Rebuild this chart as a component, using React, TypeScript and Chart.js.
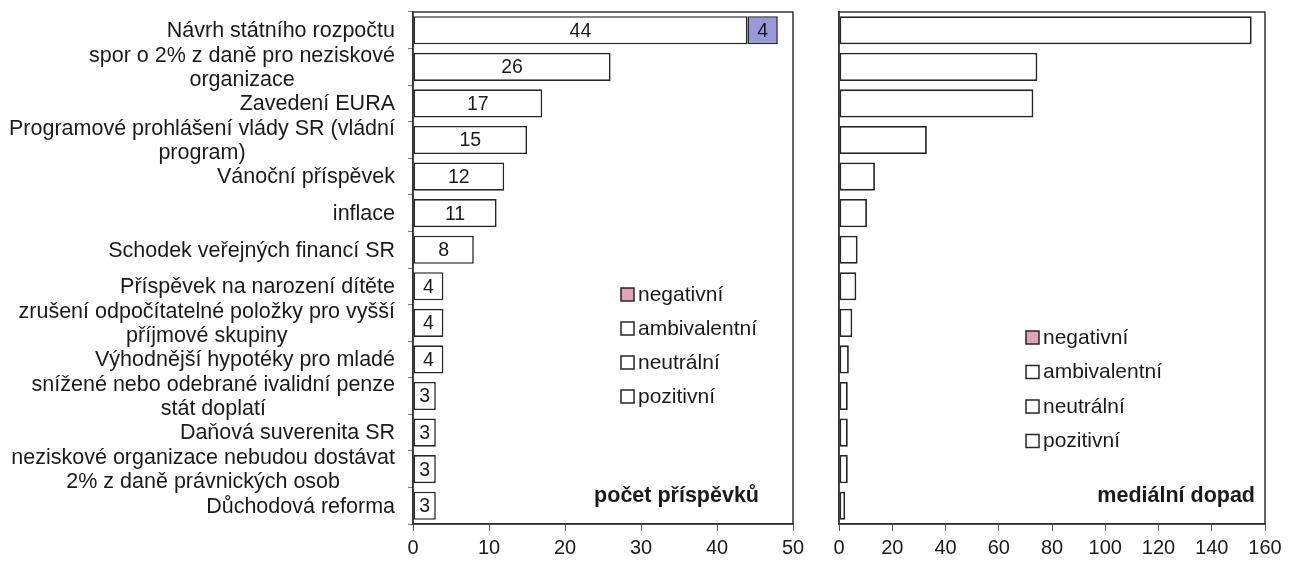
import React, { useEffect, useRef } from "react";
import { Chart, registerables } from "chart.js";

Chart.register(...registerables);

// ---------- data ----------
const topics: (string | string[])[] = [
  "Návrh státního rozpočtu",
  ["spor o 2% z daně pro neziskové", "organizace"],
  "Zavedení EURA",
  ["Programové prohlášení vlády SR (vládní", "program)"],
  "Vánoční příspěvek",
  "inflace",
  "Schodek veřejných financí SR",
  "Příspěvek na narození dítěte",
  ["zrušení odpočítatelné položky pro vyšší", "příjmové skupiny"],
  "Výhodnější hypotéky pro mladé",
  ["snížené nebo odebrané ivalidní penze", "stát doplatí"],
  "Daňová suverenita SR",
  ["neziskové organizace nebudou dostávat", "2% z daně právnických osob"],
  "Důchodová reforma",
];

const countNeutral: (number | null)[] = [44, 26, 17, 15, 12, 11, 8, 4, 4, 4, 3, 3, 3, 3];
const countNegative: (number | null)[] = [4, null, null, null, null, null, null, null, null, null, null, null, null, null];
const mediaImpact: number[] = [155, 74.5, 73, 33, 13.5, 10.5, 7, 6.5, 5, 3.7, 3.3, 3.3, 3.3, 2.3];

const legendItems: string[] = ["negativní", "ambivalentní", "neutrální", "pozitivní"];
const leftTitle = "počet příspěvků";
const rightTitle = "mediální dopad";
const countMax = 50;
const countStep = 10;
const impactMax = 160;
const impactStep = 20;

// ---------- styles ----------
const FONT = "'Liberation Sans', Arial, sans-serif";
const INK = "#1a1a1a";
const EDGE = "#262626";
const NEG_BAR = "#9a9ad8";
const NEG_LEGEND = "#e3a2b8";

const framePlugin = {
  id: "frame",
  afterDraw(chart: any) {
    const { ctx, chartArea: a } = chart;
    ctx.save();
    ctx.strokeStyle = "#333";
    ctx.lineWidth = 1.5;
    ctx.strokeRect(a.left, a.top, a.right - a.left, a.bottom - a.top);
    ctx.restore();
  },
};

const valueLabelPlugin = {
  id: "valueLabels",
  afterDatasetsDraw(chart: any) {
    const ctx = chart.ctx;
    ctx.save();
    ctx.font = `19.5px ${FONT}`;
    ctx.fillStyle = INK;
    ctx.textAlign = "center";
    ctx.textBaseline = "middle";
    chart.data.datasets.forEach((ds: any, i: number) => {
      const meta = chart.getDatasetMeta(i);
      meta.data.forEach((el: any, j: number) => {
        const v = ds.data[j];
        if (v == null) return;
        const p = el.getProps(["x", "base", "y"], true);
        ctx.fillText(String(v), (p.x + p.base) / 2, p.y + 1);
      });
    });
    ctx.restore();
  },
};

// category labels: block right-aligned to the axis, lines centred within the block
const categoryLabelPlugin = {
  id: "categoryLabels",
  afterDraw(chart: any) {
    const { ctx } = chart;
    const scale = chart.scales.y;
    const labels = chart.data.labels as (string | string[])[];
    const rightX = scale.right - 18;
    const lh = 24;
    ctx.save();
    ctx.font = `21.5px ${FONT}`;
    ctx.fillStyle = INK;
    ctx.textAlign = "center";
    ctx.textBaseline = "middle";
    labels.forEach((lab, i) => {
      const lines = Array.isArray(lab) ? lab : [lab];
      const w = Math.max(...lines.map((l) => ctx.measureText(l).width));
      const cx = rightX - w / 2;
      const y = scale.getPixelForTick(i);
      lines.forEach((l, k) => {
        ctx.fillText(l, cx, y + (k - (lines.length - 1) / 2) * lh + 1);
      });
    });
    ctx.restore();
  },
};

function makeDecorPlugin(title: string, titleDx: number, legendDx: number, legendDy: number, legendGap: number) {
  return {
    id: "decor",
    afterDraw(chart: any) {
      const { ctx, chartArea: a } = chart;
      ctx.save();
      ctx.font = `21px ${FONT}`;
      ctx.textBaseline = "middle";
      ctx.textAlign = "left";
      legendItems.forEach((label, i) => {
        const x = a.left + legendDx;
        const y = a.top + legendDy + i * legendGap;
        ctx.fillStyle = i === 0 ? NEG_LEGEND : "#fff";
        ctx.fillRect(x, y - 7, 13, 13);
        ctx.strokeStyle = EDGE;
        ctx.lineWidth = 1.5;
        ctx.strokeRect(x, y - 7, 13, 13);
        ctx.fillStyle = INK;
        ctx.fillText(label, x + 17, y);
      });
      ctx.font = `bold 21.5px ${FONT}`;
      ctx.textAlign = "right";
      ctx.fillStyle = INK;
      ctx.fillText(title, a.right - titleDx, a.bottom - 28);
      ctx.restore();
    },
  };
}

const xTickFont = { family: FONT, size: 20 };

function fixX(scale: any) {
  scale.height = 42;
  scale.paddingLeft = 0;
  scale.paddingRight = 0;
}

export default function App() {
  const leftRef = useRef<HTMLCanvasElement>(null);
  const rightRef = useRef<HTMLCanvasElement>(null);

  useEffect(() => {
    if (!leftRef.current || !rightRef.current) return;

    const left = new Chart(leftRef.current, {
      type: "bar",
      data: {
        labels: topics as any,
        datasets: [
          {
            label: "neutrální",
            data: countNeutral,
            backgroundColor: "#ffffff",
            borderColor: EDGE,
            borderWidth: 1.6,
            borderSkipped: false,
            barPercentage: 0.77,
            categoryPercentage: 1,
          },
          {
            label: "negativní",
            data: countNegative,
            backgroundColor: NEG_BAR,
            borderColor: EDGE,
            borderWidth: 1.6,
            borderSkipped: false,
            barPercentage: 0.77,
            categoryPercentage: 1,
          },
        ],
      },
      options: {
        indexAxis: "y",
        responsive: false,
        animation: false,
        layout: { padding: { top: 12, right: 22, bottom: 0, left: 0 } },
        plugins: { legend: { display: false }, tooltip: { enabled: false } },
        scales: {
          x: {
            stacked: true,
            min: 0,
            max: countMax,
            ticks: { stepSize: countStep, color: INK, font: xTickFont, padding: 5 },
            grid: { display: true, drawOnChartArea: false, drawTicks: true, tickLength: 7, color: "#555" },
            border: { display: true, color: "#333", width: 1.5 },
            afterFit: fixX,
          },
          y: {
            stacked: true,
            ticks: { display: false, autoSkip: false },
            grid: { display: true, drawOnChartArea: false, drawTicks: true, tickLength: 5, color: "#777" },
            border: { display: true, color: "#333", width: 1.5 },
            afterFit(scale: any) {
              scale.width = 413;
              scale.paddingTop = 0;
              scale.paddingBottom = 0;
            },
          },
        },
      } as any,
      plugins: [framePlugin, valueLabelPlugin, categoryLabelPlugin, makeDecorPlugin(leftTitle, 34, 208, 283, 34)],
    });

    const right = new Chart(rightRef.current, {
      type: "bar",
      data: {
        labels: topics as any,
        datasets: [
          {
            label: "mediální dopad",
            data: mediaImpact,
            backgroundColor: "#ffffff",
            borderColor: EDGE,
            borderWidth: 1.8,
            borderSkipped: false,
            barPercentage: 0.77,
            categoryPercentage: 1,
          },
        ],
      },
      options: {
        indexAxis: "y",
        responsive: false,
        animation: false,
        layout: { padding: { top: 12, right: 32, bottom: 0, left: 0 } },
        plugins: { legend: { display: false }, tooltip: { enabled: false } },
        scales: {
          x: {
            min: 0,
            max: impactMax,
            ticks: { stepSize: impactStep, color: INK, font: xTickFont, padding: 5 },
            grid: { display: true, drawOnChartArea: false, drawTicks: true, tickLength: 7, color: "#555" },
            border: { display: true, color: "#333", width: 1.5 },
            afterFit: fixX,
          },
          y: {
            ticks: { display: false, autoSkip: false },
            grid: { display: false },
            border: { display: true, color: "#333", width: 1.5 },
            afterFit(scale: any) {
              scale.width = 24;
              scale.paddingTop = 0;
              scale.paddingBottom = 0;
            },
          },
        },
      } as any,
      plugins: [framePlugin, makeDecorPlugin(rightTitle, 10, 187, 326, 34.5)],
    });

    return () => {
      left.destroy();
      right.destroy();
    };
  }, []);

  return (
    <div style={{ position: "absolute", left: 0, top: 0, width: 1297, height: 566, background: "#fff" }}>
      <canvas ref={leftRef} width={815} height={566} style={{ position: "absolute", left: 0, top: 0, width: 815, height: 566 }} />
      <canvas ref={rightRef} width={482} height={566} style={{ position: "absolute", left: 815, top: 0, width: 482, height: 566 }} />
    </div>
  );
}
